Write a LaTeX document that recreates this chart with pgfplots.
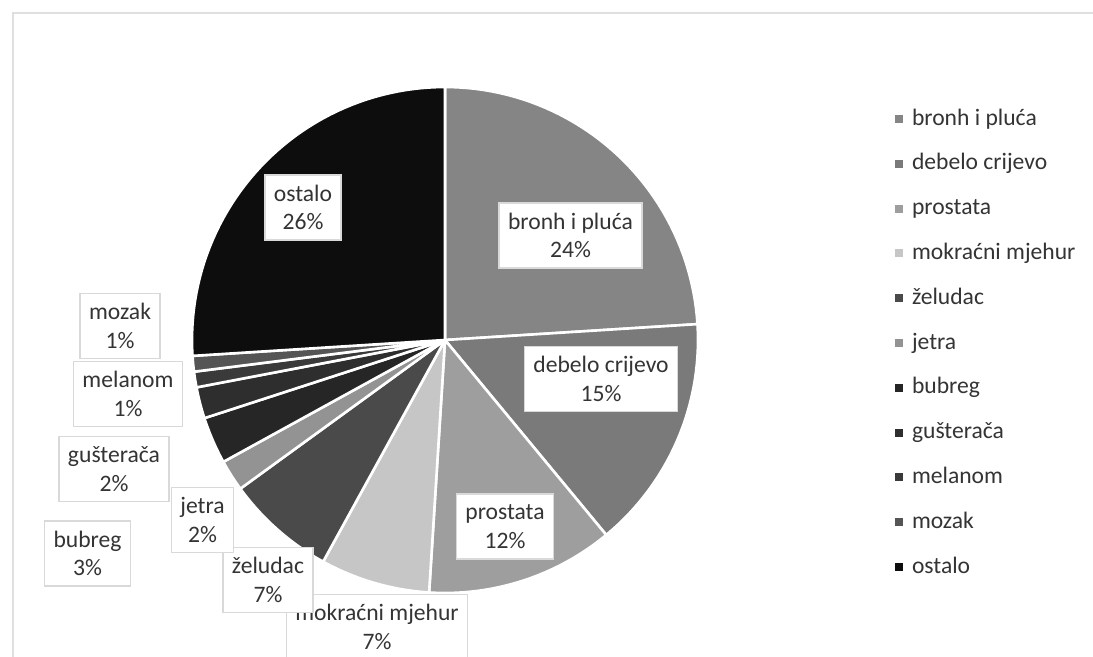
\documentclass[border=0pt]{standalone}
\usepackage{pgfplots}
\pgfplotsset{compat=1.18}
\usepackage{fontspec}
\setmainfont{Carlito}
\definecolor{txt}{HTML}{343434}
\definecolor{cBr}{HTML}{858585}
\definecolor{cDe}{HTML}{7A7A7A}
\definecolor{cPr}{HTML}{9E9E9E}
\definecolor{cMo}{HTML}{C6C6C6}
\definecolor{cZe}{HTML}{4A4A4A}
\definecolor{cJe}{HTML}{939393}
\definecolor{cBu}{HTML}{262626}
\definecolor{cGu}{HTML}{2E2E2E}
\definecolor{cMe}{HTML}{3A3A3A}
\definecolor{cMz}{HTML}{555555}
\definecolor{cOs}{HTML}{0D0D0D}
\tikzset{lbl/.style={fill=white, draw=gray!30, line width=0.6pt, align=center,
    font=\fontsize{11.8}{14.25}\selectfont, text=txt, inner xsep=4.5pt,
    minimum height=32.5pt}}
\begin{document}
\begin{tikzpicture}
\useasboundingbox (0,0) rectangle (546.5pt,-328.5pt);
\begin{axis}[
  at={(0,0)}, anchor=north west,
  scale only axis, width=546.5pt, height=328.5pt,
  xmin=0, xmax=1093, ymin=0, ymax=657, y dir=reverse,
  hide axis, clip=false,
  wedge/.style={draw=white, line width=1.3pt, forget plot, line join=round},
  legend style={at={(axis cs:895,96.6)}, anchor=north west, draw=none, fill=none,
    inner sep=0pt, outer sep=0pt, row sep=0pt, column sep=4.5pt,
    font=\fontsize{11.8}{14}\selectfont, text=txt,
    nodes={inner sep=0pt, minimum height=22.4pt, text height=9pt, text depth=3pt}},
  legend cell align=left,
  legend image code/.code={\fill[#1] (0pt,-2pt) rectangle (4pt,2pt);},
]
% frame
\addplot[forget plot, gray!25, line width=0.8pt] coordinates {(13,657) (13,13) (1093,13)};
% pie wedges: domain in percent (cumulative), clockwise from top
\addplot[wedge, fill=cBr, domain=0:24, samples=49] ({445+253*sin(3.6*x)},{340-253*cos(3.6*x)}) -- (axis cs:445,340) -- cycle;
\addplot[wedge, fill=cDe, domain=24:39, samples=31] ({445+253*sin(3.6*x)},{340-253*cos(3.6*x)}) -- (axis cs:445,340) -- cycle;
\addplot[wedge, fill=cPr, domain=39:51, samples=25] ({445+253*sin(3.6*x)},{340-253*cos(3.6*x)}) -- (axis cs:445,340) -- cycle;
\addplot[wedge, fill=cMo, domain=51:58, samples=15] ({445+253*sin(3.6*x)},{340-253*cos(3.6*x)}) -- (axis cs:445,340) -- cycle;
\addplot[wedge, fill=cZe, domain=58:65, samples=15] ({445+253*sin(3.6*x)},{340-253*cos(3.6*x)}) -- (axis cs:445,340) -- cycle;
\addplot[wedge, fill=cJe, domain=65:67, samples=5] ({445+253*sin(3.6*x)},{340-253*cos(3.6*x)}) -- (axis cs:445,340) -- cycle;
\addplot[wedge, fill=cBu, domain=67:70, samples=7] ({445+253*sin(3.6*x)},{340-253*cos(3.6*x)}) -- (axis cs:445,340) -- cycle;
\addplot[wedge, fill=cGu, domain=70:72, samples=5] ({445+253*sin(3.6*x)},{340-253*cos(3.6*x)}) -- (axis cs:445,340) -- cycle;
\addplot[wedge, fill=cMe, domain=72:73, samples=3] ({445+253*sin(3.6*x)},{340-253*cos(3.6*x)}) -- (axis cs:445,340) -- cycle;
\addplot[wedge, fill=cMz, domain=73:74, samples=3] ({445+253*sin(3.6*x)},{340-253*cos(3.6*x)}) -- (axis cs:445,340) -- cycle;
\addplot[wedge, fill=cOs, domain=74:100, samples=53] ({445+253*sin(3.6*x)},{340-253*cos(3.6*x)}) -- (axis cs:445,340) -- cycle;
% legend
\addlegendimage{fill=cBr, draw=none}\addlegendentry{bronh i pluća}
\addlegendimage{fill=cDe, draw=none}\addlegendentry{debelo crijevo}
\addlegendimage{fill=cPr, draw=none}\addlegendentry{prostata}
\addlegendimage{fill=cMo, draw=none}\addlegendentry{mokraćni mjehur}
\addlegendimage{fill=cZe, draw=none}\addlegendentry{želudac}
\addlegendimage{fill=cJe, draw=none}\addlegendentry{jetra}
\addlegendimage{fill=cBu, draw=none}\addlegendentry{bubreg}
\addlegendimage{fill=cGu, draw=none}\addlegendentry{gušterača}
\addlegendimage{fill=cMe, draw=none}\addlegendentry{melanom}
\addlegendimage{fill=cMz, draw=none}\addlegendentry{mozak}
\addlegendimage{fill=cOs, draw=none}\addlegendentry{ostalo}
% data labels
\node[lbl] at (axis cs:303,207.5) {ostalo\\26\%};
\node[lbl] at (axis cs:570.5,235.5) {bronh i pluća\\24\%};
\node[lbl] at (axis cs:601,379) {debelo crijevo\\15\%};
\node[lbl] at (axis cs:505,526.5) {prostata\\12\%};
\node[lbl] at (axis cs:377,627) {mokraćni mjehur\\7\%};
\node[lbl] at (axis cs:268,580) {želudac\\7\%};
\node[lbl] at (axis cs:202.5,520) {jetra\\2\%};
\node[lbl] at (axis cs:87.5,553.5) {bubreg\\3\%};
\node[lbl] at (axis cs:114,469) {gušterača\\2\%};
\node[lbl] at (axis cs:128,394) {melanom\\1\%};
\node[lbl] at (axis cs:120,326) {mozak\\1\%};
\end{axis}
\end{tikzpicture}
\end{document}
